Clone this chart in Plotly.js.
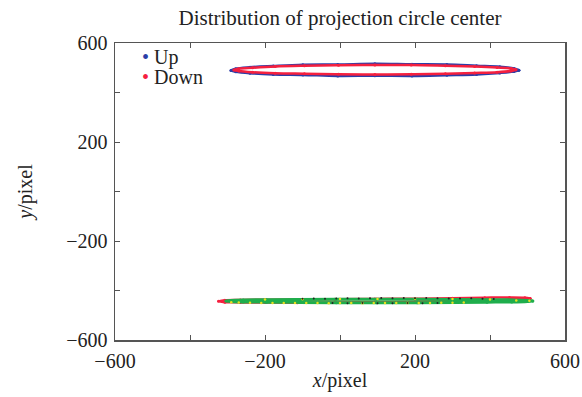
<!DOCTYPE html>
<html>
<head>
<meta charset="utf-8">
<script src="https://cdn.plot.ly/plotly-3.0.1.min.js"></script>
<style>html,body{margin:0;padding:0;background:#fff;}#chart{width:582px;height:397px;}</style>
</head>
<body>
<div id="chart"></div>
<script>
// Up (blue) – upper ring
const upX = [477,464,426,364,285,192,93,-6,-99,-178,-240,-278,-291,-278,-240,-178,-99,-6,93,192,285,364,426,464,477];
const upY = [490,497,504,508,513,514,516,513,512,507,502,496,489,484,478,473,471,467,468,467,470,473,479,485,490];
// Down (red) – upper ring
const downX = [469,456,419,359,281,190,93,-4,-95,-173,-233,-270,-283,-270,-233,-173,-95,-4,93,190,281,359,419,456,469];
const downY = [492,497,501,505,508,511,511,510,508,505,500,496,491,487,482,478,476,474,473,474,476,479,482,487,492];
// lower band: red
const lowRedX = [507,493,452,386,300,200,93,-14,-114,-200,-266,-307,-324,-307,-266,-200,-114,-14,93,200,300,386,452,493,507];
const lowRedY = [-432,-429,-428,-429,-431,-433,-434,-435,-436,-437,-438,-439,-443,-447,-448,-448,-449,-448,-447,-445,-443,-441,-438,-435,-432];
// lower band: green
const greenX = [514,500,458,392,306,206,98,-10,-110,-196,-258,-292,-304,-292,-258,-196,-110,-10,98,206,306,392,458,500,514];
const greenY = [-442,-440,-438,-437,-436,-435,-435,-435,-436,-437,-438,-440,-442,-444,-446,-447,-448,-449,-449,-449,-448,-447,-446,-444,-442];
// lower band: yellow
const yellowX = [-290,-270,-240,-210,-180,-150,-120,-90,-60,-30,0,30,60,90,120,150,180,210,240,270,300,330,-200,-100,0,100,200,300,400,470,505];
const yellowY = [-447,-448,-449,-450,-450,-451,-451,-451,-451,-452,-451,-451,-452,-451,-451,-450,-451,-450,-450,-449,-449,-448,-436,-435,-434,-434,-433,-434,-436,-440,-441];
// lower band: black
const blackX = [-100,-70,-40,-10,20,50,80,110,140,170,200,230,260,290,320,350,380,410,-20,20,60,100,140,180,220,260];
const blackY = [-433,-432,-433,-432,-431,-432,-431,-430,-431,-430,-431,-430,-431,-432,-432,-431,-433,-434,-451,-452,-451,-452,-452,-451,-452,-451];

const tickVals = [-600,-400,-200,0,200,400,600];
const tickText = ['\u2212600','','\u2212200','','200','','600'];
const legendNames = ['Up','Down'];
const blue = '#2b3ea8', red = '#f5203f';

const serif = 'Liberation Serif, Times New Roman, serif';
const fs = 20;

const traces = [
  {x: upX, y: upY, mode:'lines+markers', name: legendNames[0], line:{color:blue, width:2.5, shape:'spline'}, marker:{color:blue, size:3}},
  {x: downX, y: downY, mode:'lines+markers', name: legendNames[1], line:{color:red, width:2.5, shape:'spline'}, marker:{color:red, size:3}},
  {x: lowRedX, y: lowRedY, mode:'lines+markers', line:{color:red, width:2.5, shape:'spline'}, marker:{color:red, size:3}},
  {x: greenX, y: greenY, mode:'lines+markers', line:{color:'#1fae4c', width:3, shape:'spline'}, marker:{color:'#1fae4c', size:3}},
  {x: yellowX, y: yellowY, mode:'markers', marker:{color:'#e8e020', size:2.5}},
  {x: blackX, y: blackY, mode:'markers', marker:{color:'#222', size:2}}
];

const axisCommon = {
  range:[-600,600], tickmode:'array', tickvals: tickVals, ticktext: tickText,
  ticks:'inside', ticklen:5, tickcolor:'#555', tickwidth:1,
  showline:true, linecolor:'#555', linewidth:1.5, mirror:'ticks',
  showgrid:false, zeroline:false,
  tickfont:{family: serif, size:fs, color:'#222'}
};

const layout = {
  width:582, height:397,
  margin:{l:115, r:17, t:43, b:57},
  paper_bgcolor:'#fff', plot_bgcolor:'#fff',
  showlegend:false,
  title:{text:'Distribution of projection circle center', font:{family: serif, size:fs+1, color:'#222'},
         xref:'paper', x:0.5, xanchor:'center', yref:'container', y:0.955, yanchor:'middle'},
  xaxis: Object.assign({}, axisCommon, {ticklabelstandoff:2, title:{text:'<i>x</i>/pixel', font:{family: serif, size:fs, color:'#222'}, standoff:2}}),
  yaxis: Object.assign({}, axisCommon, {ticklabelstandoff:2, title:{text:'<i>y</i>/pixel', font:{family: serif, size:fs, color:'#222'}, standoff:28}}),
  annotations: [
    {xref:'paper', yref:'paper', x:0.055, y:0.95, xanchor:'left', yanchor:'middle', showarrow:false,
     text:'<span style="color:'+blue+'">•</span> '+legendNames[0], font:{family: serif, size:fs, color:'#222'}},
    {xref:'paper', yref:'paper', x:0.055, y:0.885, xanchor:'left', yanchor:'middle', showarrow:false,
     text:'<span style="color:'+red+'">•</span> '+legendNames[1], font:{family: serif, size:fs, color:'#222'}}
  ]
};

Plotly.newPlot('chart', traces, layout, {staticPlot:true, displayModeBar:false});
</script>
</body>
</html>
